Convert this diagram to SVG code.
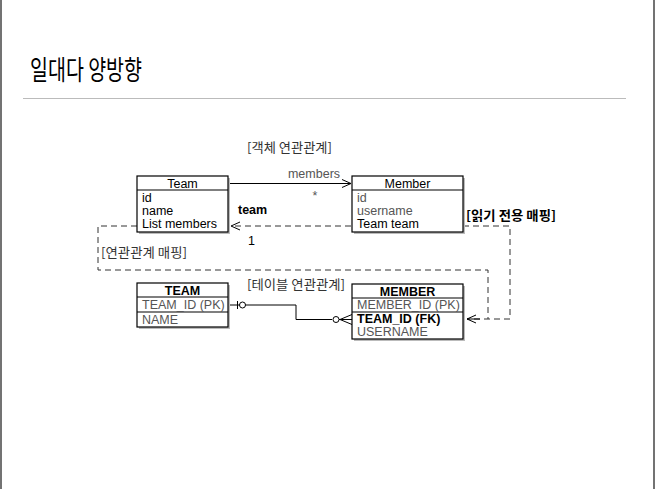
<svg xmlns="http://www.w3.org/2000/svg" width="655" height="489" viewBox="0 0 655 489">
<style>
.t{font-family:"Liberation Sans",Arial,sans-serif;font-size:12.5px;fill:#000}
.g{fill:#555}
.b{font-weight:bold}
.k{font-family:"Noto Sans CJK KR","Liberation Sans",sans-serif;font-size:13px;fill:#333}
.box{fill:#fff;stroke:#000;stroke-width:1.2}
.sh{fill:#bbb}
.sep{stroke:#000;stroke-width:1.2}
.ln{fill:none;stroke:#000;stroke-width:1}
.ds{fill:none;stroke:#333;stroke-width:1;stroke-dasharray:6,4}
</style>
<defs>
<marker id="open" markerWidth="12" markerHeight="10" refX="10" refY="5" orient="auto" markerUnits="userSpaceOnUse">
<path d="M1,1 L10,5 L1,9" fill="none" stroke="#000" stroke-width="1"/>
</marker>
</defs>
<rect width="655" height="489" fill="#fff"/>
<line x1="1" y1="0" x2="1" y2="489" stroke="#444" stroke-width="1.5"/>
<line x1="654" y1="0" x2="654" y2="489" stroke="#444" stroke-width="1.5"/>
<text x="30" y="80" font-family="Noto Sans CJK KR,sans-serif" font-size="27" fill="#000" textLength="112" lengthAdjust="spacingAndGlyphs">일대다 양방향</text>
<line x1="23" y1="98.5" x2="626" y2="98.5" stroke="#bbb" stroke-width="1.2"/>

<text class="k" x="247" y="152" textLength="85" lengthAdjust="spacingAndGlyphs">[객체 연관관계]</text>
<text class="k" x="247" y="289" textLength="98" lengthAdjust="spacingAndGlyphs">[테이블 연관관계]</text>
<text class="k" x="101" y="257" textLength="86" lengthAdjust="spacingAndGlyphs">[연관관계 매핑]</text>
<text class="k" x="466" y="220" style="font-weight:bold;fill:#000" textLength="90" lengthAdjust="spacingAndGlyphs">[읽기 전용 매핑]</text>

<g id="connectors">
<line class="ln" x1="228" y1="183.5" x2="351" y2="183.5" marker-end="url(#open)"/>
<line class="ds" x1="351" y1="226" x2="231" y2="226" marker-end="url(#open)"/>
<polyline class="ds" points="463,226 510,226 510,319 467,319"/>
<line class="ln" x1="480" y1="319" x2="467" y2="319" marker-end="url(#open)"/>
<polyline class="ds" points="137,226 98,226 98,270 488,270 488,319"/>
<polyline class="ln" points="228,305 296,305 296,319.5 332,319.5"/>
<line class="ln" x1="237.5" y1="301" x2="237.5" y2="309"/>
<circle cx="242.5" cy="305" r="3" fill="#fff" stroke="#000"/>
<circle cx="336" cy="319.5" r="3" fill="#fff" stroke="#000"/>
<polyline class="ln" points="352,314.5 340,319.5 352,324.5"/>
<line class="ln" x1="339" y1="319.5" x2="352" y2="319.5"/>
<text class="t g" x="314" y="178" text-anchor="middle">members</text>
<text class="t g" x="315" y="200" text-anchor="middle">*</text>
<text class="t b" x="238" y="214">team</text>
<text class="t" x="248" y="245">1</text>
</g>

<g id="Team">
<rect class="sh" x="139" y="178" width="91" height="56"/>
<rect class="box" x="137" y="176" width="91" height="56"/>
<line class="sep" x1="137" y1="190" x2="228" y2="190"/>
<text class="t" x="182.5" y="188" text-anchor="middle">Team</text>
<text class="t" x="142" y="202">id</text>
<text class="t" x="142" y="215">name</text>
<text class="t" x="142" y="228">List members</text>
</g>

<g id="Member">
<rect class="sh" x="354" y="178" width="111" height="56"/>
<rect class="box" x="352" y="176" width="111" height="56"/>
<line class="sep" x1="352" y1="190" x2="463" y2="190"/>
<text class="t" x="407.5" y="188" text-anchor="middle">Member</text>
<text class="t g" x="357" y="202">id</text>
<text class="t g" x="357" y="215">username</text>
<text class="t" x="357" y="228">Team team</text>
</g>

<g id="TEAM">
<rect class="sh" x="139" y="285" width="91" height="44"/>
<rect class="box" x="137" y="283" width="91" height="44"/>
<line class="sep" x1="137" y1="297" x2="228" y2="297"/>
<line class="sep" x1="137" y1="312" x2="228" y2="312"/>
<text class="t b" x="182.5" y="295" text-anchor="middle">TEAM</text>
<text class="t g" x="142" y="309">TEAM_ID (PK)</text>
<text class="t g" x="142" y="324">NAME</text>
</g>

<g id="MEMBER">
<rect class="sh" x="354" y="286" width="111" height="55"/>
<rect class="box" x="352" y="284" width="111" height="55"/>
<line class="sep" x1="352" y1="298" x2="463" y2="298"/>
<line class="sep" x1="352" y1="312" x2="463" y2="312" stroke-width="1.6"/>
<text class="t b" x="407.5" y="296" text-anchor="middle">MEMBER</text>
<text class="t g" x="357" y="309">MEMBER_ID (PK)</text>
<text class="t b" x="357" y="323">TEAM_ID (FK)</text>
<text class="t g" x="357" y="336">USERNAME</text>
</g>
</svg>
